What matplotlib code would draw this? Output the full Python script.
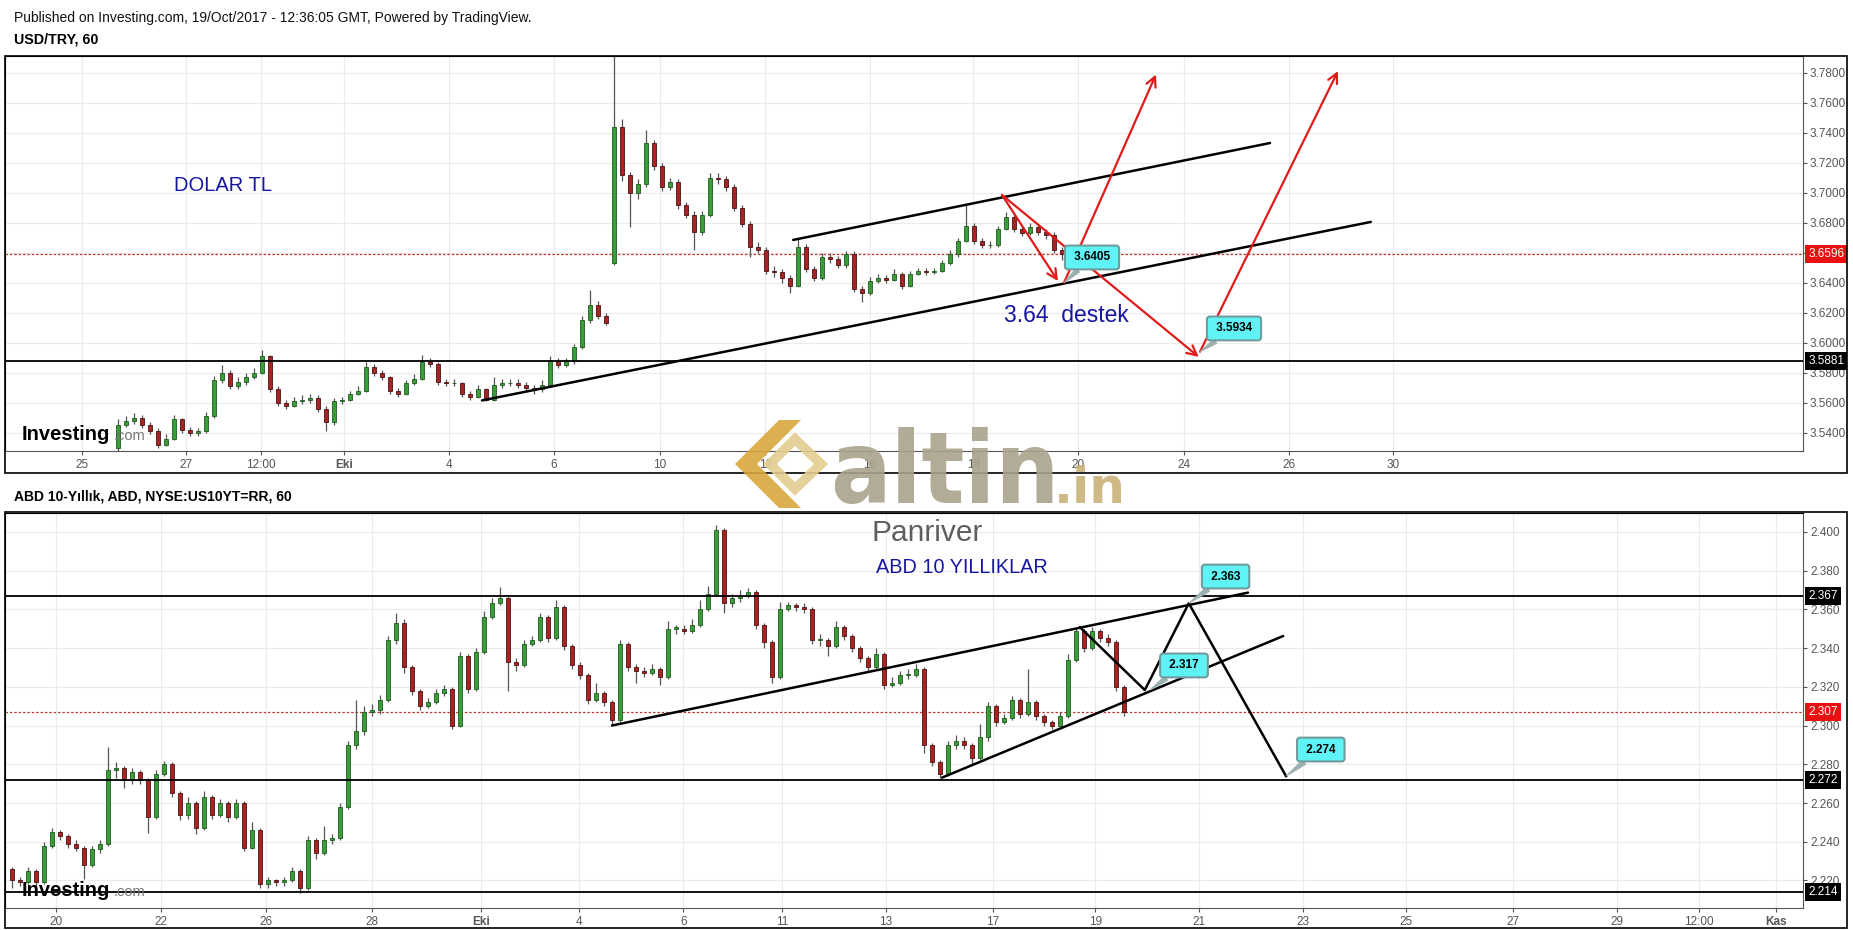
import numpy as np
import matplotlib
matplotlib.use("Agg")
import matplotlib.pyplot as plt
import matplotlib.transforms as mtransforms
from matplotlib.patches import Rectangle, Polygon

plt.rcParams["font.family"] = ["Liberation Sans", "DejaVu Sans"]

W, H = 1853, 930
UP, UP_EDGE = "#3a9d3a", "#1d5c1d"
DN, DN_EDGE = "#a82424", "#4e0f0f"
WICK = "#555555"
BLUE_TXT = "#1616a3"
ARROW_RED = "#e01b1b"
CALLOUT = "#5ff3f5"

# ---- USD/TRY, 60 (one candle per x step) ----
usd_open0 = 3.530
usd_gap_open = {62: 3.653}
usd_close = [3.545, 3.548, 3.550, 3.545, 3.541, 3.532, 3.536, 3.549, 3.542, 3.540,
             3.541, 3.551, 3.575, 3.580, 3.571, 3.574, 3.577, 3.580, 3.591, 3.569,
             3.560, 3.558, 3.561, 3.562, 3.563, 3.556, 3.547, 3.561, 3.562, 3.566,
             3.568, 3.584, 3.580, 3.577, 3.568, 3.566, 3.573, 3.576, 3.587, 3.586,
             3.574, 3.573, 3.573, 3.566, 3.564, 3.569, 3.562, 3.572, 3.573, 3.573,
             3.572, 3.570, 3.569, 3.572, 3.588, 3.585, 3.588, 3.597, 3.615, 3.625,
             3.618, 3.613, 3.744, 3.712, 3.700, 3.706, 3.733, 3.718, 3.704, 3.707,
             3.692, 3.685, 3.674, 3.685, 3.710, 3.709, 3.704, 3.690, 3.679, 3.664,
             3.662, 3.648, 3.647, 3.643, 3.638, 3.664, 3.649, 3.643, 3.657, 3.656,
             3.652, 3.659, 3.636, 3.633, 3.641, 3.643, 3.642, 3.646, 3.638, 3.646,
             3.648, 3.647, 3.648, 3.653, 3.659, 3.668, 3.678, 3.668, 3.665, 3.665,
             3.676, 3.684, 3.676, 3.673, 3.677, 3.674, 3.672, 3.662, 3.6596]
usd_high = [3.549, 3.551, 3.553, 3.552, 3.547, 3.543, 3.539, 3.552, 3.550, 3.544,
            3.543, 3.554, 3.578, 3.585, 3.582, 3.577, 3.580, 3.583, 3.595, 3.592,
            3.571, 3.562, 3.564, 3.565, 3.566, 3.565, 3.558, 3.563, 3.564, 3.568,
            3.571, 3.587, 3.586, 3.582, 3.578, 3.570, 3.575, 3.579, 3.592, 3.590,
            3.587, 3.576, 3.576, 3.574, 3.568, 3.572, 3.570, 3.577, 3.576, 3.576,
            3.576, 3.574, 3.572, 3.575, 3.591, 3.590, 3.590, 3.599, 3.618, 3.635,
            3.628, 3.620, 3.791, 3.749, 3.714, 3.709, 3.742, 3.735, 3.720, 3.710,
            3.709, 3.694, 3.688, 3.688, 3.713, 3.713, 3.711, 3.706, 3.692, 3.681,
            3.667, 3.664, 3.651, 3.649, 3.645, 3.669, 3.666, 3.651, 3.660, 3.660,
            3.658, 3.661, 3.661, 3.638, 3.644, 3.646, 3.645, 3.649, 3.647, 3.648,
            3.650, 3.650, 3.650, 3.655, 3.662, 3.670, 3.692, 3.680, 3.670, 3.668,
            3.678, 3.687, 3.686, 3.678, 3.680, 3.679, 3.676, 3.674, 3.664]
usd_low = [3.528, 3.544, 3.546, 3.543, 3.539, 3.530, 3.531, 3.535, 3.540, 3.538,
           3.538, 3.540, 3.550, 3.573, 3.569, 3.569, 3.572, 3.576, 3.579, 3.567,
           3.558, 3.556, 3.557, 3.559, 3.560, 3.554, 3.541, 3.545, 3.559, 3.561,
           3.565, 3.567, 3.578, 3.575, 3.566, 3.564, 3.565, 3.572, 3.575, 3.584,
           3.572, 3.571, 3.571, 3.564, 3.562, 3.563, 3.561, 3.561, 3.570, 3.571,
           3.570, 3.568, 3.566, 3.567, 3.571, 3.583, 3.584, 3.586, 3.596, 3.613,
           3.616, 3.612, 3.652, 3.708, 3.677, 3.696, 3.704, 3.715, 3.701, 3.702,
           3.689, 3.683, 3.662, 3.672, 3.684, 3.706, 3.701, 3.688, 3.677, 3.657,
           3.660, 3.646, 3.644, 3.640, 3.633, 3.637, 3.647, 3.641, 3.642, 3.653,
           3.650, 3.650, 3.634, 3.627, 3.632, 3.640, 3.640, 3.641, 3.636, 3.637,
           3.645, 3.645, 3.646, 3.647, 3.652, 3.657, 3.667, 3.666, 3.663, 3.663,
           3.664, 3.675, 3.674, 3.671, 3.672, 3.672, 3.669, 3.660, 3.655]
usd_tick_pos = [-4.5, 8.56, 17.9, 28.25, 41.4, 54.5, 67.75, 80.9, 94.0, 106.9,
                120.0, 133.25, 146.4, 159.4]
usd_tick_lbl = ["25", "27", "12:00", "Eki", "4", "6", "10", "12", "16", "18",
                "20", "24", "26", "30"]
usd_yticks = [3.54, 3.56, 3.58, 3.60, 3.62, 3.64, 3.66, 3.68, 3.70, 3.72, 3.74, 3.76, 3.78]
usd_last = 3.6596
usd_level = 3.5881
# drawings: (k, price)
usd_channel_low = [(45.5, 3.5617), (156.6, 3.6807)]
usd_channel_up = [(84.4, 3.6687), (144.0, 3.7333)]
usd_arrows = [((110.5, 3.6987), (117.5, 3.6413)),
              ((110.5, 3.6987), (135.1, 3.5907)),
              ((118.25, 3.6402), (129.75, 3.7790)),
              ((135.25, 3.5942), (152.5, 3.7813))]
usd_callouts = [("3.6405", (118.25, 3.6402), (121.75, 3.6570)),
                ("3.5934", (135.25, 3.5942), (139.5, 3.6097))]

# ---- ABD 10-Yillik (US10YT), 60 ----
bond_open0 = 2.226
bond_close = [2.220, 2.219, 2.225, 2.219, 2.238, 2.245, 2.243, 2.239, 2.237, 2.228,
              2.236, 2.239, 2.277, 2.278, 2.272, 2.276, 2.272, 2.253, 2.275, 2.280,
              2.265, 2.254, 2.260, 2.247, 2.263, 2.254, 2.260, 2.253, 2.260, 2.237,
              2.246, 2.218, 2.220, 2.219, 2.220, 2.225, 2.216, 2.241, 2.234, 2.241,
              2.242, 2.258, 2.290, 2.297, 2.307, 2.308, 2.313, 2.344, 2.353, 2.330,
              2.318, 2.310, 2.312, 2.317, 2.319, 2.300, 2.336, 2.319, 2.338, 2.356,
              2.363, 2.366, 2.333, 2.331, 2.342, 2.344, 2.356, 2.345, 2.361, 2.341,
              2.331, 2.326, 2.313, 2.317, 2.312, 2.303, 2.342, 2.330, 2.328, 2.327,
              2.329, 2.325, 2.350, 2.350, 2.349, 2.352, 2.360, 2.368, 2.401, 2.363,
              2.366, 2.367, 2.369, 2.352, 2.343, 2.325, 2.360, 2.362, 2.361, 2.360,
              2.344, 2.344, 2.341, 2.351, 2.346, 2.340, 2.335, 2.330, 2.337, 2.321,
              2.322, 2.326, 2.326, 2.329, 2.290, 2.281, 2.275, 2.290, 2.292, 2.290,
              2.283, 2.294, 2.310, 2.302, 2.304, 2.313, 2.306, 2.312, 2.305, 2.302,
              2.300, 2.305, 2.334, 2.349, 2.340, 2.349, 2.345, 2.343, 2.320, 2.307]
bond_high = [2.227, 2.222, 2.227, 2.226, 2.240, 2.247, 2.246, 2.244, 2.241, 2.238,
             2.238, 2.241, 2.289, 2.281, 2.279, 2.278, 2.277, 2.273, 2.277, 2.2815,
             2.281, 2.266, 2.263, 2.261, 2.266, 2.264, 2.262, 2.261, 2.262, 2.261,
             2.250, 2.247, 2.222, 2.221, 2.222, 2.227, 2.226, 2.243, 2.242, 2.248,
             2.244, 2.260, 2.292, 2.313, 2.310, 2.311, 2.316, 2.346, 2.358, 2.355,
             2.331, 2.319, 2.314, 2.319, 2.321, 2.320, 2.338, 2.337, 2.340, 2.359,
             2.366, 2.3717, 2.367, 2.335, 2.344, 2.346, 2.358, 2.357, 2.365, 2.362,
             2.342, 2.333, 2.327, 2.322, 2.318, 2.313, 2.344, 2.343, 2.332, 2.330,
             2.332, 2.330, 2.354, 2.352, 2.352, 2.355, 2.365, 2.372, 2.4035, 2.402,
             2.368, 2.370, 2.371, 2.370, 2.353, 2.344, 2.364, 2.364, 2.363, 2.363,
             2.361, 2.347, 2.345, 2.354, 2.352, 2.347, 2.341, 2.336, 2.340, 2.338,
             2.325, 2.328, 2.329, 2.332, 2.330, 2.291, 2.282, 2.292, 2.295, 2.294,
             2.291, 2.301, 2.312, 2.311, 2.306, 2.315, 2.314, 2.329, 2.313, 2.306,
             2.303, 2.307, 2.337, 2.351, 2.350, 2.351, 2.350, 2.347, 2.344, 2.321]
bond_low = [2.216, 2.217, 2.218, 2.217, 2.218, 2.237, 2.241, 2.237, 2.235, 2.221,
            2.227, 2.234, 2.238, 2.273, 2.268, 2.270, 2.270, 2.2445, 2.252, 2.274,
            2.263, 2.251, 2.252, 2.244, 2.246, 2.252, 2.253, 2.250, 2.252, 2.235,
            2.236, 2.216, 2.216, 2.217, 2.217, 2.219, 2.2134, 2.215, 2.231, 2.233,
            2.239, 2.241, 2.257, 2.288, 2.295, 2.305, 2.306, 2.312, 2.342, 2.327,
            2.316, 2.308, 2.309, 2.311, 2.315, 2.298, 2.299, 2.317, 2.318, 2.337,
            2.355, 2.362, 2.318, 2.328, 2.330, 2.341, 2.343, 2.343, 2.344, 2.339,
            2.329, 2.324, 2.311, 2.312, 2.310, 2.300, 2.302, 2.328, 2.322, 2.325,
            2.326, 2.321, 2.324, 2.347, 2.347, 2.348, 2.351, 2.359, 2.367, 2.358,
            2.361, 2.364, 2.366, 2.350, 2.340, 2.322, 2.324, 2.359, 2.359, 2.358,
            2.342, 2.341, 2.336, 2.340, 2.344, 2.338, 2.333, 2.328, 2.329, 2.319,
            2.320, 2.321, 2.324, 2.325, 2.286, 2.279, 2.2727, 2.274, 2.288, 2.288,
            2.280, 2.282, 2.292, 2.300, 2.301, 2.303, 2.304, 2.305, 2.303, 2.300,
            2.298, 2.299, 2.304, 2.333, 2.338, 2.339, 2.343, 2.341, 2.318, 2.305]
bond_tick_pos = [5.44, 18.59, 31.75, 45.0, 58.6, 70.9, 83.9, 96.25, 109.25, 122.6,
                 135.4, 148.4, 161.4, 174.25, 187.6, 200.6, 210.9, 220.5]
bond_tick_lbl = ["20", "22", "26", "28", "Eki", "4", "6", "11", "13", "17",
                 "19", "21", "23", "25", "27", "29", "12:00", "Kas"]
bond_yticks = [2.22, 2.24, 2.26, 2.28, 2.30, 2.32, 2.34, 2.36, 2.38, 2.40]
bond_last = 2.307
bond_levels = [2.367, 2.272, 2.214]
bond_wedge_up = [(75.0, 2.300), (154.5, 2.3686)]
bond_wedge_low = [(116.25, 2.2731), (158.9, 2.3462)]
bond_zigzag_k = [133.5, 141.6, 147.1, 159.25]
bond_zigzag_p = [2.3507, 2.3183, 2.3631, 2.2739]
bond_callouts = [("2.363", (147.1, 2.3631), (151.7, 2.3769)),
                 ("2.317", (142.25, 2.3183), (146.5, 2.3310)),
                 ("2.274", (159.25, 2.2739), (163.6, 2.2876))]


def fig_rect(l, t, r, b):
    return [l / W, 1 - b / H, (r - l) / W, (b - t) / H]


def draw_candles(ax, opens, highs, lows, closes):
    x = np.arange(len(closes))
    o, h, l, c = map(np.asarray, (opens, highs, lows, closes))
    ax.vlines(x, l, h, color=WICK, lw=0.9, zorder=2)
    up = c >= o
    body = np.maximum(np.abs(c - o), 0.0006)
    ax.bar(x[up], body[up], bottom=np.minimum(o, c)[up], width=0.45, color=UP,
           edgecolor=UP_EDGE, lw=0.6, zorder=3)
    ax.bar(x[~up], body[~up], bottom=np.minimum(o, c)[~up], width=0.45, color=DN,
           edgecolor=DN_EDGE, lw=0.6, zorder=3)


def style_axes(ax, xlim, ylim, ticks, labels, yticks, yfmt):
    ax.set_xlim(*xlim)
    ax.set_ylim(*ylim)
    ax.set_xticks(ticks)
    ax.set_xticklabels(labels)
    for t in ax.get_xticklabels():
        if t.get_text() in ("Eki", "Kas"):
            t.set_fontweight("bold")
    ax.yaxis.tick_right()
    ax.set_yticks(yticks)
    ax.set_yticklabels([yfmt.format(v) for v in yticks])
    ax.tick_params(axis="both", colors="#555555", labelsize=8.5, length=3, width=0.8)
    ax.tick_params(axis="x", pad=3)
    ax.tick_params(axis="y", pad=2)
    ax.grid(True, color="#ebebeb", lw=0.8)
    ax.set_axisbelow(True)
    for s in ("left", "top"):
        ax.spines[s].set_color("black")
    for s in ("right", "bottom"):
        ax.spines[s].set_color("#555555")


def price_tag(ax, y, txt, fc):
    tr = mtransforms.blended_transform_factory(ax.transAxes, ax.transData)
    ax.text(1.003, y, txt, transform=tr, ha="left", va="center", color="white",
            fontsize=8.5, clip_on=False, zorder=6,
            bbox=dict(boxstyle="square,pad=0.25", fc=fc, ec="none"))


def callout(ax, txt, anchor, box):
    ax.annotate(" " + txt + " ", xy=anchor, xytext=box, ha="center", va="center",
                fontsize=8.5, fontweight="bold", color="black", zorder=8,
                bbox=dict(boxstyle="round,pad=0.5,rounding_size=0.25", fc=CALLOUT,
                          ec="#6f9c9c", lw=1.5),
                arrowprops=dict(arrowstyle="wedge,tail_width=0.45,shrink_factor=0.6",
                                fc="#9db0b0", ec="#9db0b0", lw=0.5,
                                shrinkA=0, shrinkB=0))


def investing_logo(px, py):
    fig.text(px / W, 1 - py / H, "Investing", fontsize=14.5, fontweight="bold",
             color="black", va="baseline", ha="left", zorder=9)
    fig.text((px + 92) / W, 1 - py / H, ".com", fontsize=10.5, color="#777777",
             va="baseline", ha="left", zorder=9)


fig = plt.figure(figsize=(W / 100, H / 100), dpi=100)
fig.patch.set_facecolor("white")

fig.text(14 / W, 1 - 18 / H, "Published on Investing.com, 19/Oct/2017 - 12:36:05 GMT, "
         "Powered by TradingView.", fontsize=10, va="center", color="#111111")
fig.text(14 / W, 1 - 40 / H, "USD/TRY, 60", fontsize=10.3, fontweight="bold", va="center")
fig.text(14 / W, 1 - 496 / H, "ABD 10-Yıllık, ABD, NYSE:US10YT=RR, 60", fontsize=10,
         fontweight="bold", va="center")

for (l, t, r, b) in [(5, 56, 1847, 473), (5, 512, 1847, 928)]:
    fig.patches.append(Rectangle((l / W, 1 - b / H), (r - l) / W, (b - t) / H,
                                 transform=fig.transFigure, fill=False,
                                 ec="black", lw=1.2, zorder=0))

# ---- top panel ----
axt = fig.add_axes(fig_rect(5, 56, 1803, 451))
usd_open = [usd_open0] + usd_close[:-1]
for k, v in usd_gap_open.items():
    usd_open[k] = v
draw_candles(axt, usd_open, usd_high, usd_low, usd_close)
style_axes(axt, (-14.125, 210.625), (3.528, 3.7913), usd_tick_pos, usd_tick_lbl,
           usd_yticks, "{:.4f}")
axt.axhline(usd_level, color="black", lw=1.3, zorder=4)
axt.axhline(usd_last, color="#c0392b", lw=0.9, ls=(0, (2, 1.5)), zorder=1)
for line in (usd_channel_low, usd_channel_up):
    axt.plot([p[0] for p in line], [p[1] for p in line], color="black", lw=1.8,
             solid_capstyle="round", zorder=5)
for start, end in usd_arrows:
    axt.annotate("", xy=end, xytext=start, zorder=6,
                 arrowprops=dict(arrowstyle="->,head_length=0.7,head_width=0.35",
                                 color=ARROW_RED, lw=1.6, shrinkA=0, shrinkB=0))
for txt, a, b in usd_callouts:
    callout(axt, txt, a, b)
axt.text(7.0, 3.705, "DOLAR TL", fontsize=14.5, color=BLUE_TXT, ha="left",
         va="center")
axt.text(110.75, 3.618, "3.64  destek", fontsize=16.5, color=BLUE_TXT, ha="left",
         va="center")
price_tag(axt, usd_last, "3.6596", "#e81010")
price_tag(axt, usd_level, "3.5881", "black")

# ---- bottom panel ----
axb = fig.add_axes(fig_rect(5, 513, 1803, 908))
bond_open = [bond_open0] + bond_close[:-1]
draw_candles(axb, bond_open, bond_high, bond_low, bond_close)
style_axes(axb, (-0.875, 223.875), (2.2058, 2.4097), bond_tick_pos, bond_tick_lbl,
           bond_yticks, "{:.3f}")
for lv in bond_levels:
    axb.axhline(lv, color="black", lw=1.3, zorder=4)
axb.axhline(bond_last, color="#c0392b", lw=0.9, ls=(0, (2, 1.5)), zorder=1)
for line in (bond_wedge_up, bond_wedge_low):
    axb.plot([p[0] for p in line], [p[1] for p in line], color="black", lw=1.8,
             solid_capstyle="round", zorder=5)
axb.plot(bond_zigzag_k, bond_zigzag_p, color="black", lw=1.8, zorder=5)
for txt, a, b in bond_callouts:
    callout(axb, txt, a, b)
axb.text(107.4, 2.3993, "Panriver", fontsize=21.5, color="#5e5e5e", ha="left",
         va="center")
axb.text(108.0, 2.3814, "ABD 10 YILLIKLAR", fontsize=14.3, color=BLUE_TXT, ha="left",
         va="center")
price_tag(axb, bond_levels[0], "2.367", "black")
price_tag(axb, bond_last, "2.307", "#e81010")
price_tag(axb, bond_levels[1], "2.272", "black")
price_tag(axb, bond_levels[2], "2.214", "black")

investing_logo(22, 440)
investing_logo(22, 896)

# ---- altin.in watermark ----
gold, tan = "#d9a83e", "#e3cc8f"
fig.patches.append(Polygon([(735 / W, 1 - 464 / H), (779 / W, 1 - 420 / H),
                            (801 / W, 1 - 420 / H), (757 / W, 1 - 464 / H),
                            (801 / W, 1 - 508 / H), (779 / W, 1 - 508 / H)],
                           closed=True, transform=fig.transFigure, fc=gold, ec="none",
                           alpha=0.9, zorder=10))
fig.patches.append(Polygon([(770 / W, 1 - 464 / H), (795 / W, 1 - 439 / H),
                            (821 / W, 1 - 464 / H), (795 / W, 1 - 489 / H)],
                           closed=True, transform=fig.transFigure, fill=False,
                           ec=tan, lw=7, alpha=0.9, zorder=10))
fig.text(830 / W, 1 - 503 / H, "altin", fontsize=72, fontweight="bold",
         fontstretch="condensed", family="DejaVu Sans", color="#aaa28d", alpha=0.9,
         va="baseline", ha="left", zorder=10)
fig.text(1054 / W, 1 - 503 / H, ".in", fontsize=36, fontweight="bold",
         family="DejaVu Sans", color="#c9b27a", alpha=0.9, va="baseline", ha="left",
         zorder=10)

fig.savefig("out.png", dpi=100)
